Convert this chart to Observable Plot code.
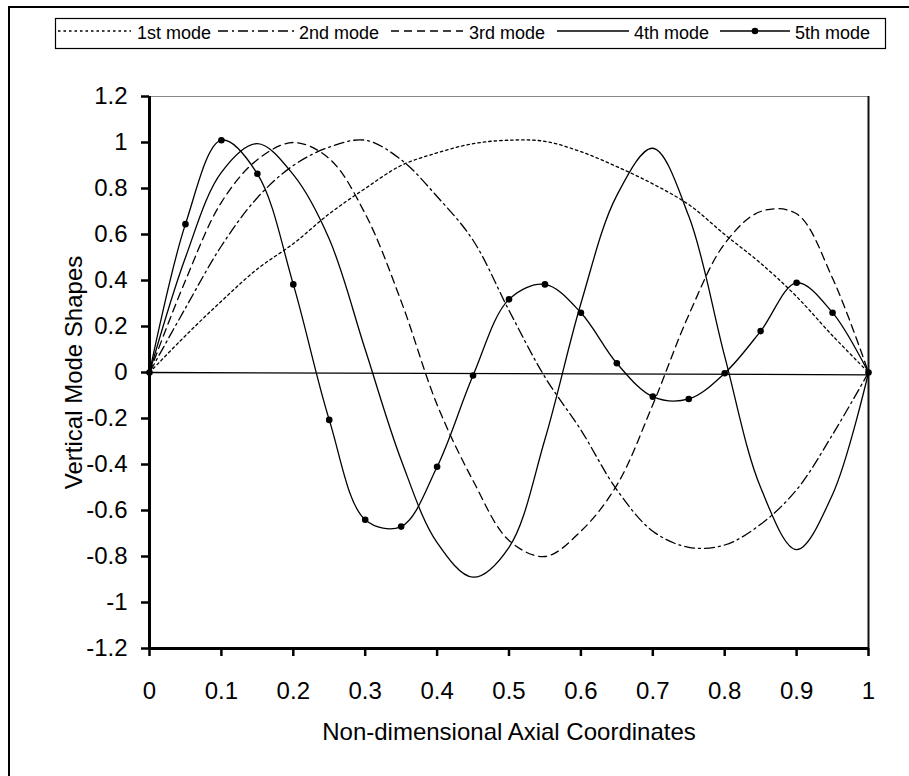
<!DOCTYPE html>
<html>
<head>
<meta charset="utf-8">
<script src="https://cdn.jsdelivr.net/npm/d3@7"></script>
<script src="https://cdn.jsdelivr.net/npm/@observablehq/plot@0.6"></script>
<style>
  html, body { margin: 0; padding: 0; background: #fff; }
  #page { position: relative; width: 909px; height: 776px; overflow: hidden; background: #fff;
          font-family: "Liberation Sans", Arial, sans-serif; }
  #outer { position: absolute; left: 8px; top: 6px; width: 1000px; height: 1000px;
           border: 2px solid #000; box-sizing: border-box; }
  #legend { position: absolute; left: 0; top: 0; }
  #chart { position: absolute; left: 0; top: 56px; }
</style>
</head>
<body>
<div id="page">
  <div id="outer"></div>
  <svg id="legend" width="909" height="56"></svg>
  <div id="chart"></div>
</div>
<script>
// ---- data ----
const xs = [0, 0.05, 0.1, 0.15, 0.2, 0.25, 0.3, 0.35, 0.4, 0.45, 0.5, 0.55, 0.6, 0.65, 0.7, 0.75, 0.8, 0.85, 0.9, 0.95, 1];
const mode1 = [0, 0.16, 0.31, 0.45, 0.56, 0.69, 0.80, 0.90, 0.955, 0.995, 1.01, 1.005, 0.96, 0.895, 0.82, 0.73, 0.60, 0.475, 0.33, 0.16, 0];
const mode2 = [0, 0.28, 0.55, 0.76, 0.90, 0.98, 1.01, 0.925, 0.765, 0.575, 0.27, -0.02, -0.25, -0.51, -0.69, -0.76, -0.75, -0.66, -0.51, -0.27, 0];
const mode3 = [0, 0.40, 0.74, 0.925, 1.0, 0.93, 0.69, 0.31, -0.14, -0.47, -0.73, -0.80, -0.69, -0.49, -0.14, 0.25, 0.56, 0.70, 0.69, 0.41, 0];
const mode4 = [0, 0.50, 0.87, 0.995, 0.86, 0.58, 0.10, -0.38, -0.74, -0.89, -0.76, -0.29, 0.30, 0.77, 0.975, 0.68, 0.07, -0.50, -0.77, -0.53, 0];
const mode5 = [0, 0.645, 1.01, 0.864, 0.383, -0.206, -0.64, -0.67, -0.41, -0.013, 0.318, 0.383, 0.26, 0.04, -0.105, -0.115, -0.003, 0.18, 0.39, 0.26, 0];
const zeroLineX = [0, 1];
const zeroLineY = [0, -0.01];
const seriesNames = ["1st mode", "2nd mode", "3rd mode", "4th mode", "5th mode"];
const xTicks = [0, 0.1, 0.2, 0.3, 0.4, 0.5, 0.6, 0.7, 0.8, 0.9, 1];
const xTickLabels = ["0", "0.1", "0.2", "0.3", "0.4", "0.5", "0.6", "0.7", "0.8", "0.9", "1"];
const yTicks = [-1.2, -1, -0.8, -0.6, -0.4, -0.2, 0, 0.2, 0.4, 0.6, 0.8, 1, 1.2];
const yTickLabels = ["-1.2", "-1", "-0.8", "-0.6", "-0.4", "-0.2", "0", "0.2", "0.4", "0.6", "0.8", "1", "1.2"];
const xTitle = "Non-dimensional Axial Coordinates";
const yTitle = "Vertical Mode Shapes";

// ---- styles ----
const dashes = ["2.5,3", "10,4,2,4", "8,5", null, null];
const lineW = 1.3;
const FONT = '"Liberation Sans", Arial, sans-serif';

const seriesValues = [mode1, mode2, mode3, mode4, mode5];
const rows = seriesValues.map(vals => xs.map((x, i) => ({x, y: vals[i]})));
const zeroRows = zeroLineX.map((x, i) => ({x, y: zeroLineY[i]}));

const lineMarks = rows.map((r, k) => Plot.line(r, {
  x: "x", y: "y", curve: "catmull-rom", stroke: "#000", strokeWidth: lineW,
  strokeDasharray: dashes[k] || undefined
}));

const chart = Plot.plot({
  width: 909,
  height: 720,
  marginTop: 40,
  marginLeft: 149,
  marginRight: 41,
  marginBottom: 128,
  style: {fontFamily: FONT, fontSize: "24px", color: "#000", background: "transparent"},
  x: {domain: [0, 1], ticks: xTicks, label: null},
  y: {domain: [-1.2, 1.2], ticks: yTicks, label: null},
  marks: [
    Plot.ruleY([1.2], {stroke: "#888", strokeWidth: 1.2}),
    Plot.ruleX([1], {stroke: "#111", strokeWidth: 2}),
    Plot.line(zeroRows, {x: "x", y: "y", stroke: "#000", strokeWidth: 1.3}),
    ...lineMarks,
    Plot.dot(rows[4], {x: "x", y: "y", r: 3.3, fill: "#000", stroke: null}),
    Plot.axisX({ticks: xTicks, tickSize: 8, tickPadding: 25, strokeWidth: 2.5,
      tickFormat: d => xTickLabels[xTicks.indexOf(d)], fontSize: 24, label: null}),
    Plot.axisY({ticks: yTicks, tickSize: 8, tickPadding: 14, strokeWidth: 2.5,
      tickFormat: d => yTickLabels[yTicks.indexOf(d)], fontSize: 24, label: null}),
    Plot.ruleX([0], {stroke: "#000", strokeWidth: 3}),
    Plot.ruleY([-1.2], {stroke: "#000", strokeWidth: 3}),
    Plot.text([xTitle], {frameAnchor: "bottom", lineAnchor: "middle", textAnchor: "middle", dy: 84, fontSize: 24, fill: "#000"}),
    Plot.text([yTitle], {frameAnchor: "left", textAnchor: "middle", lineAnchor: "middle", dx: -75, rotate: -90, fontSize: 24, fill: "#000"})
  ]
});
document.getElementById("chart").appendChild(chart);

// ---- legend ----
const lg = d3.select("#legend");
lg.append("rect").attr("x", 55.5).attr("y", 18.5).attr("width", 830).attr("height", 30)
  .attr("fill", "#fff").attr("stroke", "#000").attr("stroke-width", 1.2);
const legendItems = [
  {x0: 58, x1: 131, tx: 137},
  {x0: 218, x1: 294, tx: 299},
  {x0: 391, x1: 463, tx: 469},
  {x0: 557, x1: 629, tx: 634},
  {x0: 720, x1: 790, tx: 795}
];
legendItems.forEach((it, k) => {
  const ln = lg.append("line").attr("x1", it.x0).attr("x2", it.x1).attr("y1", 31).attr("y2", 31)
    .attr("stroke", "#000").attr("stroke-width", lineW);
  if (dashes[k]) ln.attr("stroke-dasharray", dashes[k]);
  if (k === 4) lg.append("circle").attr("cx", (it.x0 + it.x1) / 2).attr("cy", 31).attr("r", 3.3).attr("fill", "#000");
  lg.append("text").attr("x", it.tx).attr("y", 38.5).attr("font-family", FONT).attr("font-size", 18)
    .attr("fill", "#000").text(seriesNames[k]);
});
</script>
</body>
</html>
